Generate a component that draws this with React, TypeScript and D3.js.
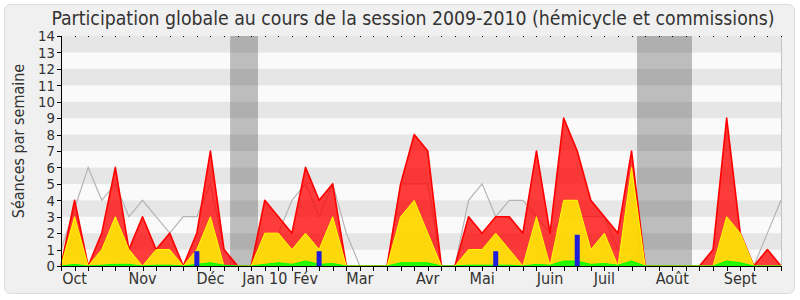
import React from "react";
import * as d3 from "d3";

const presence = [0,4,0,2,6,1,3,1,2,0,2,7,1,0,0,4,3,2,6,4,5,0,0,0,0,5,8,7,0,0,3,2,3,3,2,7,2,9,7,4,3,2,7,0,0,0,0,0,1,9,2,0,1,0];
const participation = [0,3,0,1,3,1,0,1,1,0,1,3,0,0,0,2,2,1,2,1,3,0,0,0,0,3,4,2,0,0,1,1,2,1,0,3,0,4,4,1,2,0,6,0,0,0,0,0,0,3,2,0,0,0];
const interventions = [0,0.1,0,0.05,0.1,0.1,0,0.05,0.05,0,0.1,0.2,0.05,0,0,0.1,0.2,0.1,0.3,0.1,0.15,0,0,0,0,0.2,0.2,0.2,0,0,0.05,0.05,0.05,0.05,0,0.1,0.05,0.3,0.3,0.1,0.15,0.05,0.3,0,0,0,0,0,0,0.3,0.2,0,0,0];
const mediane = [1,3.5,6,4,5,3,4,3,2,3,3,5,1,0,0,1,2,4,5,3,5,2,0,0,0,5,5,5,0,0,4,5,3,4,4,3,2,3,3,3,3,1,1,0,0,0,0,0,0,1,2,0,2,4];
const questionWeeks = [10,19,32,38];
const questionValues = [0.9,0.9,0.9,1.9];
const vacances = [[12.45,14.5],[42.4,46.45]];
const monthLabels = ["Oct","Nov","Déc","Jan 10","Fév","Mar","Avr","Mai","Juin","Juil","Août","Sept"];
const monthWeeks = [1,6,11,15,18,22,27,31,36,40,45,50];
const yTicks = d3.range(0, 15);

const W = 800, H = 300;
const L = 61, R = 781, T = 36, B = 266;
const FONT = "'DejaVu Sans Condensed', 'DejaVu Sans', sans-serif";

export default function App() {
  const nWeeks = presence.length - 1;
  const x = d3.scaleLinear().domain([0, nWeeks]).range([L, R]);
  const y = d3.scaleLinear().domain([0, 14]).range([B, T]);
  const idx = d3.range(presence.length);

  const areaOf = (vals: number[]) =>
    d3.area<number>().x((i) => x(i)).y0(y(0)).y1((i) => y(vals[i]))(idx) || "";
  const lineOf = (vals: number[]) =>
    d3.line<number>().x((i) => x(i)).y((i) => y(vals[i]))(idx) || "";

  return (
    <svg width={W} height={H} style={{ display: "block", position: "absolute", left: 0, top: 0 }}>
      <rect x={0} y={0} width={W} height={H} fill="#ffffff" />
      <rect x={4.5} y={4.5} width={790} height={289} rx={6} fill="#f0f0f0" stroke="#dcdcdc" />
      <text x={413} y={25} textAnchor="middle" fontFamily={FONT} fontSize={19.3} fill="#333">
        Participation globale au cours de la session 2009-2010 (hémicycle et commissions)
      </text>
      {yTicks.slice(0, 14).map((k) => (
        <rect key={"s" + k} x={L} y={y(k + 1)} width={R - L} height={y(k) - y(k + 1)}
          fill={k % 2 === 1 ? "#e6e6e6" : "#fafafa"} />
      ))}
      {vacances.map((v, i) => (
        <rect key={"v" + i} x={x(v[0])} y={T} width={x(v[1]) - x(v[0])} height={B - T}
          fill="#323232" fillOpacity={0.3} />
      ))}
      <path d={lineOf(mediane)} fill="none" stroke="#b4b4b4" strokeWidth={1.2} />
      <path d={areaOf(presence)} fill="#ff0000" fillOpacity={0.76} />
      <path d={lineOf(presence)} fill="none" stroke="#ff0000" strokeWidth={1.6} strokeLinejoin="round" />
      <path d={areaOf(participation)} fill="#ffff00" fillOpacity={0.8} />
      <path d={lineOf(participation)} fill="none" stroke="#ffff00" strokeWidth={1} />
      <path d={areaOf(interventions)} fill="#00ff00" fillOpacity={0.85} />
      <path d={lineOf(interventions)} fill="none" stroke="#00ff00" strokeWidth={1} />
      {questionWeeks.map((w, i) => (
        <rect key={"q" + i} x={x(w) - 2.5} y={y(questionValues[i])} width={5}
          height={y(0) - y(questionValues[i])} fill="#1e1edc" />
      ))}
      <line x1={R + 0.5} x2={R + 0.5} y1={T} y2={B} stroke="#c4c4c4" />
      <line x1={L + 0.5} x2={L + 0.5} y1={T} y2={B + 0.5} stroke="#000" />
      <line x1={L} x2={R + 1} y1={B + 0.5} y2={B + 0.5} stroke="#000" />
      {yTicks.map((k) => (
        <g key={"yt" + k}>
          <line x1={L - 4} x2={L} y1={Math.round(y(k)) + 0.5} y2={Math.round(y(k)) + 0.5} stroke="#000" />
          <text x={L - 6} y={y(k)} dy="0.36em" textAnchor="end" fontFamily={FONT} fontSize={14.8} fill="#333">{k}</text>
        </g>
      ))}
      {idx.map((i) => (
        <g key={"xt" + i}>
          <line x1={Math.round(x(i)) + 0.5} x2={Math.round(x(i)) + 0.5} y1={B} y2={B + 5} stroke="#000" />
          <rect x={Math.round(x(i))} y={T} width={1} height={1} fill="#000" />
        </g>
      ))}
      {monthLabels.map((m, i) => (
        <text key={"m" + i} x={x(monthWeeks[i])} y={284} textAnchor="middle" fontFamily={FONT} fontSize={16} fill="#333">{m}</text>
      ))}
      <text transform={`translate(24,141) rotate(-90)`} textAnchor="middle" fontFamily={FONT} fontSize={16} fill="#333">
        Séances par semaine
      </text>
    </svg>
  );
}
